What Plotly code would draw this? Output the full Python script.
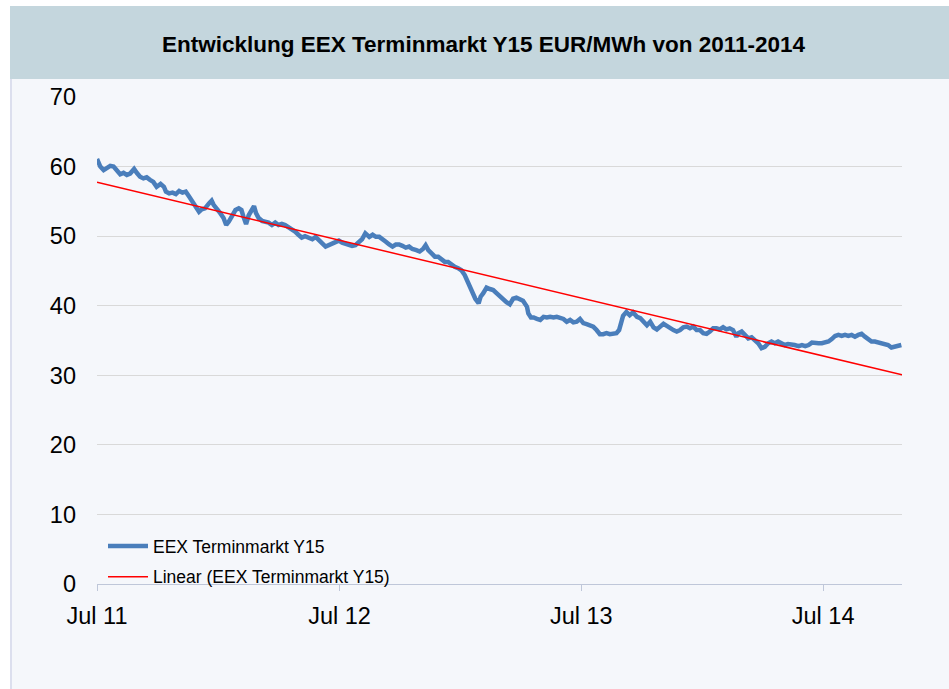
import numpy as np
import pandas as pd
import plotly.graph_objects as go

# ---------------- data ----------------
start_date = "2011-07-01"
# days since start date (sample points)
days = [0, 5, 10, 15, 20, 25, 30, 35, 40, 45, 50, 56, 60, 65, 70, 75, 80, 85, 90, 96,
        101, 104, 109, 114, 119, 124, 129, 134, 139, 144, 149, 154, 158, 163, 169, 173, 176, 181, 186, 191,
        195, 199, 204, 209, 214, 218, 221, 225, 229, 233, 237, 240, 244, 249, 254, 259, 264, 269, 274, 279,
        284, 289, 294, 299, 304, 309, 314, 320, 325, 330, 335, 340, 345, 350, 355, 360, 365, 370, 375, 380,
        385, 390, 395, 400, 405,
        411, 416, 421, 426, 431, 436, 441, 446, 451, 456, 461, 466, 471, 476, 482, 487, 492, 496, 500, 505,
        510, 515, 520, 525, 530, 535, 540, 545, 550, 555, 559, 563, 567, 571, 576, 579, 583, 588, 593, 598,
        603, 608, 613, 618, 623, 628, 633, 638, 643, 649, 651, 655, 659, 664, 669, 674, 679, 684, 689, 694,
        699, 704, 709, 714, 719, 724, 729, 734, 739, 744, 749, 754, 759, 764, 769, 774, 779, 784, 788, 791,
        794, 799, 804, 809, 815,
        820, 825, 830, 835, 840, 845, 850, 855, 860, 865, 870, 875, 880, 885, 890, 895, 900, 905, 910, 915,
        920, 925, 930, 935, 940, 945, 950, 955, 960, 965, 968, 973, 978, 983, 988, 993, 998, 1003, 1008, 1013,
        1018, 1023, 1028, 1033, 1038, 1043, 1048, 1053, 1059, 1064, 1069, 1074, 1079, 1084, 1089, 1094, 1099,
        1104, 1109, 1114, 1119, 1124, 1129, 1134, 1139, 1144, 1149, 1154, 1159, 1164, 1169, 1174, 1179, 1184,
        1189, 1194, 1199, 1204, 1209, 1214]

eex_y15 = [61.1, 60.0, 59.5, 59.75, 60.1, 60.0, 59.4, 58.9, 59.1, 58.8, 59.0, 59.65, 59.1, 58.55, 58.3, 58.45, 58.1, 57.8, 57.1, 57.5,
           57.1, 56.4, 56.15, 56.25, 56.05, 56.5, 56.25, 56.4, 55.7, 55.0, 54.3, 53.5, 53.85, 54.0, 54.7, 55.1, 54.5, 53.75, 53.3, 52.6,
           51.6, 52.1, 52.8, 53.75, 54.0, 53.75, 52.8, 51.75, 53.0, 53.75, 54.3, 53.3, 52.6, 52.2, 52.1, 51.95, 51.6, 51.95, 51.6, 51.75,
           51.6, 51.3, 51.1, 50.65, 50.2, 49.8, 50.0, 49.7, 49.55, 49.9, 49.35, 48.95, 48.5, 48.7, 48.95, 49.2, 49.35, 49.05, 48.9, 48.7,
           48.6, 48.7, 49.2, 49.55, 50.4,
           49.9, 50.2, 49.9, 49.9, 49.6, 49.2, 48.8, 48.5, 48.8, 48.8, 48.6, 48.35, 48.5, 48.15, 48.0, 47.8, 48.15, 48.7, 48.0, 47.4,
           47.05, 47.05, 46.7, 46.3, 46.3, 45.85, 45.6, 45.4, 45.1, 44.4, 43.45, 42.5, 41.55, 41.0, 40.35, 41.3, 41.8, 42.6, 42.4, 42.25,
           41.8, 41.3, 40.8, 40.5, 40.2, 41.0, 41.15, 41.0, 40.7, 39.85, 38.9, 38.3, 38.3, 38.1, 37.95, 38.4, 38.3, 38.4, 38.3, 38.4,
           38.3, 38.1, 37.7, 37.95, 37.6, 37.7, 38.1, 37.5, 37.35, 37.15, 37.0, 36.5, 35.9, 35.9, 36.05, 35.9, 36.05, 36.05, 36.5, 37.7,
           38.55, 39.1, 38.65, 39.05, 38.4,
           38.2, 37.7, 37.2, 37.7, 36.9, 36.6, 37.0, 37.4, 37.1, 36.75, 36.5, 36.3, 36.5, 36.9, 37.0, 36.75, 37.0, 36.5, 36.5, 36.05,
           35.95, 36.3, 36.75, 36.75, 36.6, 36.9, 36.6, 36.75, 36.5, 35.55, 36.05, 36.3, 35.8, 35.3, 35.45, 35.05, 34.6, 33.9, 34.1, 34.6,
           34.85, 34.6, 34.85, 34.6, 34.35, 34.5, 34.35, 34.35, 34.2, 34.35, 34.2, 34.35, 34.7, 34.6, 34.6, 34.6, 34.7,
           34.85, 35.2, 35.65, 35.8, 35.65, 35.8, 35.65, 35.8, 35.55, 35.8, 35.95, 35.55, 35.2, 34.85, 34.85, 34.7, 34.7,
           34.5, 34.35, 34.0, 34.1, 34.2, 34.35]

assert len(days) == len(eex_y15)

x_range = ["2011-07-01", "2014-10-28"]
tick_dates = ["2011-07-01", "2012-07-01", "2013-07-01", "2014-07-01"]
tick_labels = ["Jul 11", "Jul 12", "Jul 13", "Jul 14"]
y_ticks = [0, 10, 20, 30, 40, 50, 60, 70]

title_text = "Entwicklung EEX Terminmarkt Y15 EUR/MWh von 2011-2014"
series_name = "EEX Terminmarkt Y15"
trend_name = "Linear (EEX Terminmarkt Y15)"

# ---------------- derived ----------------
dates = pd.Timestamp(start_date) + pd.to_timedelta(days, unit="D")
coef = np.polyfit(np.array(days, dtype=float), np.array(eex_y15), 1)
trend_days = [0, (pd.Timestamp(x_range[1]) - pd.Timestamp(start_date)).days]
trend_dates = pd.Timestamp(start_date) + pd.to_timedelta(trend_days, unit="D")
trend_vals = np.polyval(coef, np.array(trend_days, dtype=float))

# ---------------- figure ----------------
W, H = 949, 689
L, R, T, B = 97, 47, 97, 105
pw, ph = W - L - R, H - T - B


def px_x(X):
    return (X - L) / pw


def px_y(Y):
    return (H - B - Y) / ph


FONT = "Liberation Sans, Arial, sans-serif"

fig = go.Figure()
fig.add_trace(go.Scatter(
    x=dates, y=eex_y15, mode="lines", name=series_name,
    line=dict(color="#4A7EBB", width=4.5), legendgroup="a",
))
fig.add_trace(go.Scatter(
    x=trend_dates, y=trend_vals, mode="lines", name=trend_name,
    line=dict(color="#FF0000", width=1.5), legendgroup="b",
))

shapes = [
    # chart background
    dict(type="rect", xref="paper", yref="paper", layer="below",
         x0=px_x(10), x1=px_x(W), y0=px_y(H), y1=px_y(79),
         fillcolor="#F5F7FB", line=dict(width=0)),
    # title band
    dict(type="rect", xref="paper", yref="paper", layer="below",
         x0=px_x(10), x1=px_x(W), y0=px_y(79), y1=px_y(6),
         fillcolor="#C4D6DD", line=dict(width=0)),
    # left border
    dict(type="line", xref="paper", yref="paper", layer="below",
         x0=px_x(11), x1=px_x(11), y0=px_y(H), y1=px_y(79),
         line=dict(color="#DCDFEE", width=2)),
]

fig.update_layout(
    width=W, height=H,
    margin=dict(l=L, r=R, t=T, b=B),
    paper_bgcolor="white",
    plot_bgcolor="rgba(0,0,0,0)",
    font=dict(family=FONT, color="black"),
    shapes=shapes,
    showlegend=True,
    legend=dict(
        x=px_x(103), y=px_y(528), xanchor="left", yanchor="top",
        bgcolor="rgba(0,0,0,0)", font=dict(size=17.5, family=FONT, color="black"),
        traceorder="grouped", tracegroupgap=5, itemwidth=40,
    ),
    annotations=[dict(
        text=title_text, xref="paper", yref="paper",
        x=px_x(484), y=px_y(45), xanchor="center", yanchor="middle",
        showarrow=False, font=dict(size=22.5, family=FONT, color="black", weight="bold"),
    )],
)

fig.update_xaxes(
    type="date", range=x_range,
    tickvals=tick_dates, ticktext=tick_labels,
    showgrid=False, zeroline=False,
    showline=True, linecolor="#BFC7D9", linewidth=1,
    ticks="outside", ticklen=6, tickcolor="#BFC7D9",
    ticklabelstandoff=5,
    tickfont=dict(size=23.5, family=FONT, color="black"),
)
fig.update_yaxes(
    range=[0, 70], tickvals=y_ticks,
    showgrid=True, gridcolor="#D9D9D9", gridwidth=1,
    zeroline=False, showline=False, ticks="",
    ticklabelstandoff=20,
    tickfont=dict(size=23.5, family=FONT, color="black"),
)

fig.write_html("out.html", config={"displayModeBar": False})

# remove default page margin so the figure sits at the window origin
with open("out.html", "r", encoding="utf-8") as f:
    html = f.read()
html = html.replace("<body>", '<body style="margin:0;padding:0;">', 1)
with open("out.html", "w", encoding="utf-8") as f:
    f.write(html)
